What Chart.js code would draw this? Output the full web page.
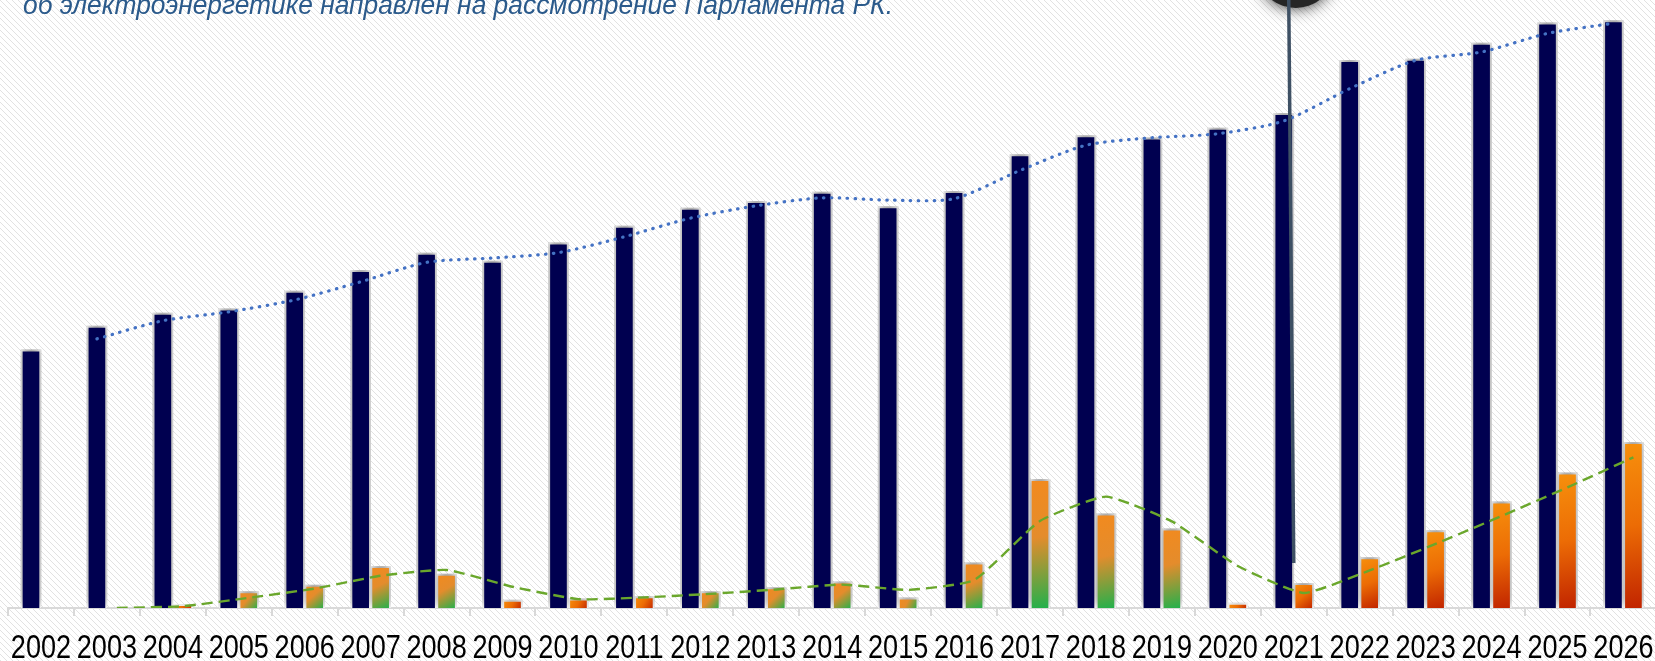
<!DOCTYPE html>
<html>
<head>
<meta charset="utf-8">
<script src="https://cdn.jsdelivr.net/npm/chart.js@4.4.1/dist/chart.umd.min.js"></script>
<style>
  html, body { margin: 0; padding: 0; background: #fff; overflow: hidden; }
  #wrap { position: relative; width: 1658px; height: 661px; }
  #note {
    position: absolute; left: 23px; top: -8px; z-index: 2;
    font: italic 27px 'Liberation Sans', sans-serif;
    line-height: 27px; color: #2b5a8b; white-space: nowrap; transform-origin: 0 0;
  }
</style>
</head>
<body>
<div id="wrap">
  <canvas id="powerChart" width="1658" height="661"></canvas>
  <div id="note">об электроэнергетике направлен на рассмотрение Парламента РК.</div>
</div>
<script>
const years = ['2002','2003','2004','2005','2006','2007','2008','2009','2010','2011','2012','2013',
  '2014','2015','2016','2017','2018','2019','2020','2021','2022','2023','2024','2025','2026'];

// dark bars
const output = [58.4, 63.8, 66.7, 67.7, 71.7, 76.4, 80.3, 78.5, 82.6, 86.4, 90.5, 92.0,
  94.1, 90.8, 94.3, 102.6, 106.9, 106.4, 108.6, 111.9, 123.9, 124.2, 127.8, 132.4, 132.9];

// small bars
const gap = [0, 0, 0.8, 3.7, 5.2, 9.4, 7.7, 1.8, 2.1, 2.6, 3.7, 4.6,
  5.9, 2.3, 10.2, 29.1, 21.3, 17.9, 1.1, 5.6, 11.4, 17.5, 24.0, 30.6, 37.5];
const gapType = ['', '', 'minus', 'plus', 'plus', 'plus', 'plus', 'minus', 'minus', 'minus', 'plus', 'plus',
  'plus', 'plus', 'plus', 'plus', 'plus', 'plus', 'minus', 'minus', 'minus', 'minus', 'minus', 'minus', 'minus'];

// trend lines, 2003 .. 2026
const outputTrend = [60.9, 65.0, 67.0, 69.7, 73.8, 78.2, 79.2, 80.4, 84.0, 88.2, 91.0, 92.8,
  92.3, 92.6, 99.0, 104.7, 106.4, 107.3, 110.2, 117.5, 123.9, 125.8, 130.0, 132.3];
const gapTrend = [0, 0.4, 2.3, 4.4, 7.3, 8.6, 4.8, 2.0, 2.4, 3.2, 4.2, 5.3,
  4.1, 6.3, 19.7, 25.2, 19.6, 9.5, 3.4, 8.5, 14.5, 20.8, 27.3, 34.1];

const barShift = 0.1515;   // half a bar, in category units

// fit the cut-off heading to its width in the picture
const note = document.getElementById('note');
note.style.transform = 'scaleX(' + (870 / note.getBoundingClientRect().width) + ')';

const hatch = {
  id: 'hatch',
  beforeDraw(chart) {
    const tile = document.createElement('canvas');
    tile.width = 6; tile.height = 6;
    const t = tile.getContext('2d');
    t.fillStyle = '#ffffff';
    t.fillRect(0, 0, 6, 6);
    t.strokeStyle = '#e2e2e2';
    t.lineWidth = 1;
    t.beginPath(); t.moveTo(-1, -1); t.lineTo(7, 7); t.stroke();
    const c = chart.ctx;
    c.save();
    c.fillStyle = c.createPattern(tile, 'repeat');
    c.fillRect(0, 0, chart.width, chart.height);
    c.restore();
  }
};

const barShadow = {
  id: 'barShadow',
  beforeDatasetDraw(chart, args) {
    if (chart.data.datasets[args.index].type === 'line') return;
    const c = chart.ctx;
    c.save();
    c.shadowColor = 'rgba(0,0,0,0.5)';
    c.shadowBlur = 10;
    c.shadowOffsetY = -3;
  },
  afterDatasetDraw(chart, args) {
    if (chart.data.datasets[args.index].type === 'line') return;
    chart.ctx.restore();
  }
};

// narrow year labels under the axis
const yearLabels = {
  id: 'yearLabels',
  afterDraw(chart) {
    const c = chart.ctx;
    const xs = chart.scales.x;
    c.save();
    c.fillStyle = '#000000';
    c.font = "33px 'Liberation Sans', sans-serif";
    c.textAlign = 'center';
    c.textBaseline = 'alphabetic';
    years.forEach((yr, i) => {
      c.save();
      c.translate(xs.getPixelForValue(i), 658);
      c.scale(0.82, 1);
      c.fillText(yr, 0, 0);
      c.restore();
    });
    c.restore();
  }
};

// pointer line coming down from a callout above the picture
const callout = {
  id: 'callout',
  afterDraw(chart) {
    const c = chart.ctx;
    const xs = chart.scales.x;
    const cx = xs.getPixelForValue(years.indexOf('2021'));
    c.save();
    c.fillStyle = '#262626';
    c.shadowColor = 'rgba(0,0,0,0.85)';
    c.shadowBlur = 16;
    c.beginPath();
    c.ellipse(cx + 2, -20, 34, 28, 0, 0, Math.PI * 2);
    c.fill();
    c.restore();
    c.save();
    c.strokeStyle = '#3e5064';
    c.lineWidth = 3.5;
    c.beginPath();
    c.moveTo(cx - 5, 0);
    c.lineTo(cx, chart.chartArea.bottom - 45);
    c.stroke();
    c.restore();
  }
};

function gapFill(ctx) {
  const chart = ctx.chart;
  const xs = chart.scales.x, ys = chart.scales.y;
  const i = ctx.dataIndex;
  const fallback = gapType[i] === 'plus' ? '#e98a28' : '#f07a08';
  if (!xs || !ys || i === undefined) return fallback;
  const cx = xs.getPixelForValue(i);
  const top = ys.getPixelForValue(gap[i]);
  const base = ys.getPixelForValue(0);
  if (![cx, top, base].every(Number.isFinite)) return fallback;
  const g = chart.ctx.createLinearGradient(cx, top, cx + 20, base);
  if (gapType[i] === 'plus') {
    g.addColorStop(0, '#f28a1e');
    g.addColorStop(0.45, '#e48c2c');
    g.addColorStop(1, '#22b14c');
  } else {
    g.addColorStop(0, '#f7900c');
    g.addColorStop(0.5, '#ec6c05');
    g.addColorStop(1, '#c12400');
  }
  return g;
}

const ctx = document.getElementById('powerChart').getContext('2d');

const chart = new Chart(ctx, {
  type: 'bar',
  data: {
    labels: years,
    datasets: [
      {
        data: output.map((v, i) => ({ x: i - barShift, y: v })),
        xAxisID: 'x2',
        grouped: false,
        barThickness: 20,
        backgroundColor: '#000050',
        borderColor: '#ffffff',
        borderWidth: 2,
        order: 2
      },
      {
        data: gap.map((v, i) => ({ x: i + barShift, y: v })),
        xAxisID: 'x2',
        grouped: false,
        barThickness: 20,
        backgroundColor: gapFill,
        borderColor: '#ffffff',
        borderWidth: 2,
        order: 2
      },
      {
        type: 'line',
        data: outputTrend.map((v, k) => ({ x: k + 1 - barShift, y: v })),
        xAxisID: 'x2',
        borderColor: '#4472c4',
        borderWidth: 3.2,
        borderDash: [0.5, 7.4],
        borderCapStyle: 'round',
        pointRadius: 0,
        tension: 0.25,
        order: 1
      },
      {
        type: 'line',
        data: gapTrend.map((v, k) => ({ x: k + 1 + barShift, y: v })),
        xAxisID: 'x2',
        borderColor: '#6aa72c',
        borderWidth: 2.4,
        borderDash: [11, 6],
        pointRadius: 0,
        tension: 0.15,
        order: 1
      }
    ]
  },
  options: {
    responsive: false,
    animation: false,
    events: [],
    layout: { padding: { left: 8, right: 0, top: 0, bottom: 0 } },
    plugins: { legend: { display: false }, tooltip: { enabled: false } },
    scales: {
      x: {
        type: 'category',
        offset: true,
        grid: { offset: true, drawOnChartArea: false, drawTicks: true, tickLength: 8, color: '#d9d9d9', lineWidth: 2 },
        border: { display: true, color: '#d9d9d9', width: 2 },
        ticks: { display: false },
        afterFit(scale) { scale.height = 53; }
      },
      x2: { type: 'linear', display: false, offset: false, grid: { offset: false }, min: -0.5, max: 24.5 },
      y: { display: false, min: 0, max: 137.2 }
    }
  },
  plugins: [hatch, barShadow, yearLabels, callout]
});
// second pass so the bar gradients are built with laid-out scales
chart.update();
</script>
</body>
</html>
